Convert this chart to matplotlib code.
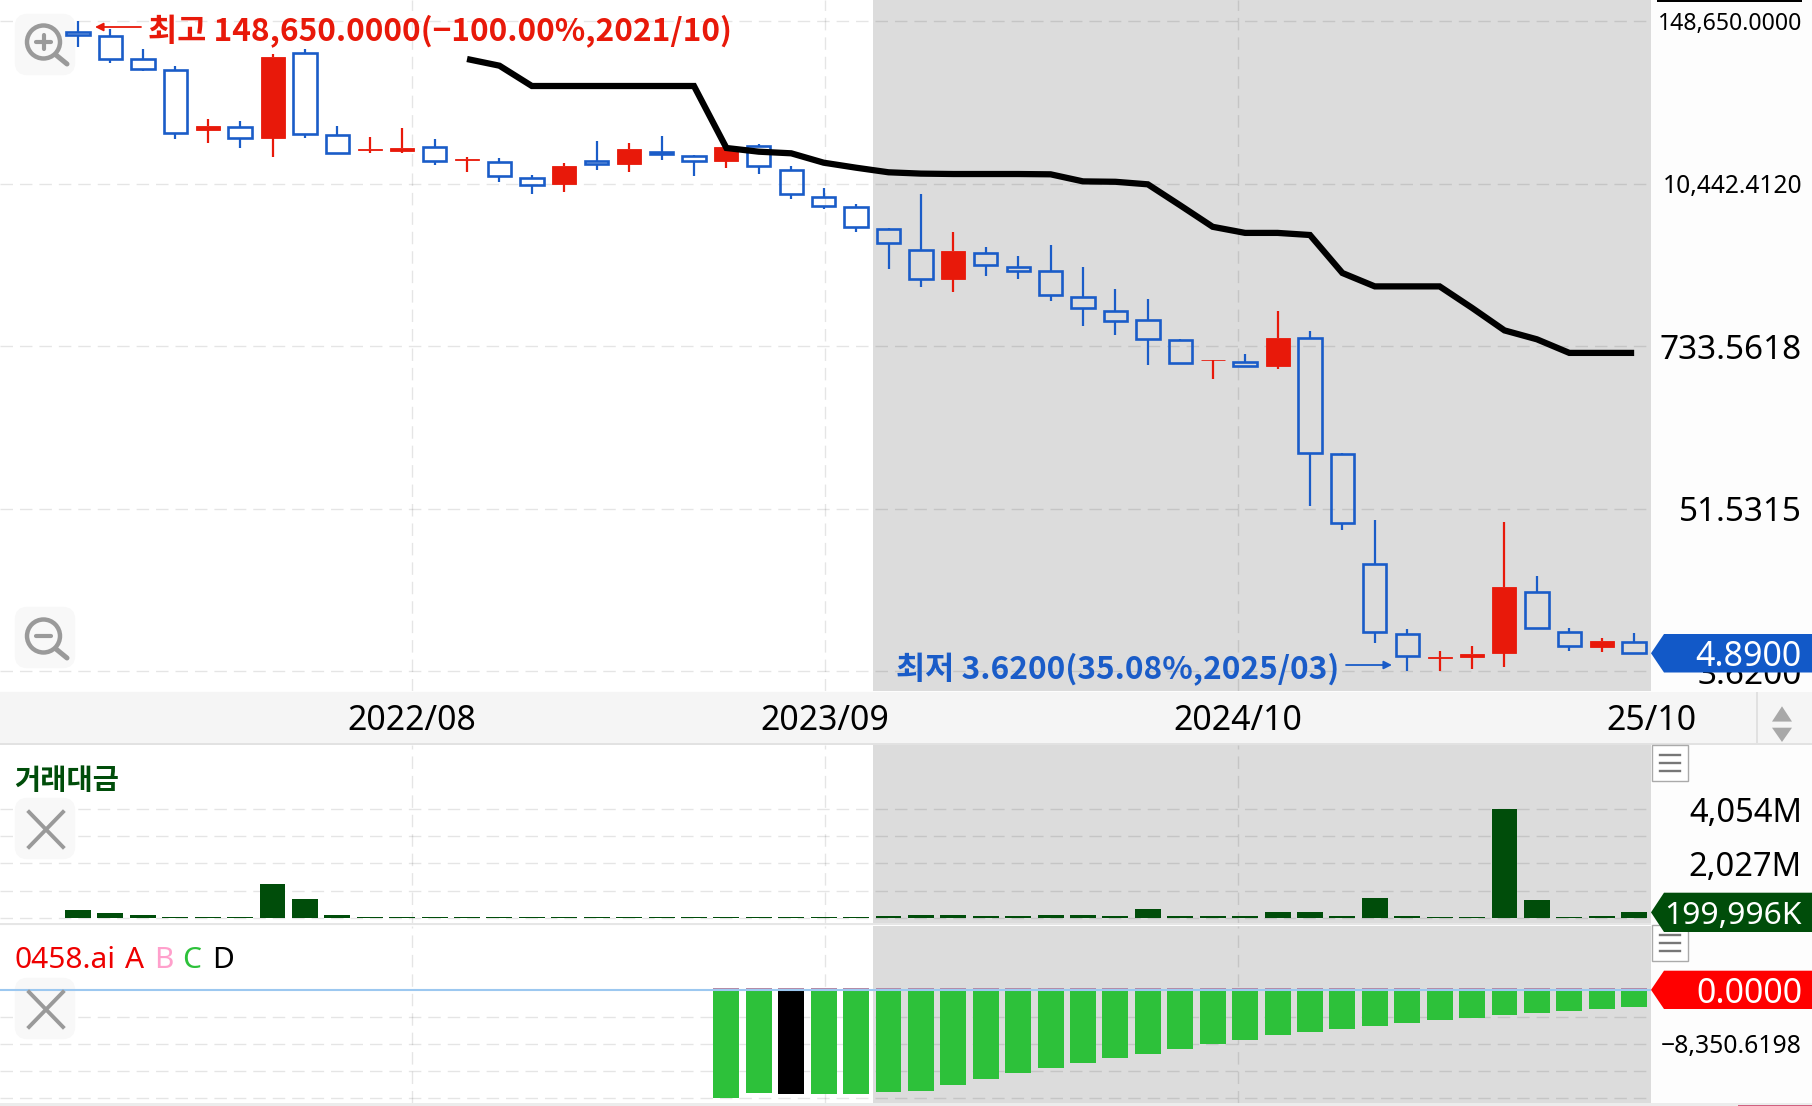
import matplotlib
matplotlib.use("Agg")
import matplotlib.pyplot as plt
from matplotlib.patches import Circle, FancyBboxPatch, Polygon, Rectangle

plt.rcParams["font.family"] = ["Noto Sans", "Noto Sans CJK KR", "DejaVu Sans"]

# monthly candles, 2021/10 to 2025/10
opens = [1.258e5, 1.175e5, 8.025e4, 6.737e4, 2.514e4, 2.653e4, 2.205e4, 8.853e4, 2.316e4, 1.821e4, 1.792e4, 1.904e4, 1.539e4,
         1.497e4, 1.147e4, 1.04e4, 1.507e4, 1.435e4, 1.754e4, 1.651e4, 1.522e4, 1.926e4, 1.301e4, 8405, 7102, 5005,
         3533, 2214, 3370, 2685, 2490, 1638, 1303, 1132, 805.9, 581.1, 567.9, 532.9, 835.4,
         126, 20.96, 6.672, 4.485, 4.551, 4.867, 13.07, 6.849, 5.36, 5.835]
closes = [1.188e5, 7.986e4, 6.815e4, 2.393e4, 2.683e4, 2.216e4, 8.292e4, 2.354e4, 1.734e4, 1.842e4, 1.882e4, 1.507e4, 1.557e4,
          1.185e4, 1.023e4, 1.402e4, 1.442e4, 1.842e4, 1.698e4, 1.514e4, 1.913e4, 1.388e4, 8784, 7255, 5146, 3942,
          2214, 3453, 2747, 2519, 1693, 1371, 1107, 825.9, 557.8, 588.7, 526.8, 845, 128.1,
          40.77, 6.872, 4.596, 4.551, 4.811, 14.18, 7.324, 5.475, 5.912, 4.89]
highs = [1.486e5, 1.311e5, 9.451e4, 7.193e4, 3.009e4, 2.926e4, 8.709e4, 9.405e4, 2.683e4, 2.253e4, 2.584e4, 2.159e4, 1.609e4,
         1.582e4, 1.21e4, 1.458e4, 2.1e4, 2.032e4, 2.279e4, 1.678e4, 2.042e4, 1.99e4, 1.402e4, 9690, 7496, 5063,
         8885, 4704, 3711, 3203, 3860, 2676, 1858, 1586, 820.5, 588.7, 649.4, 1303, 933.6,
         128.1, 43.03, 7.241, 4.988, 5.412, 41.04, 17, 7.372, 6.219, 6.716]
lows = [9.765e4, 7.517e4, 6.628e4, 2.17e4, 2.042e4, 1.882e4, 1.624e4, 2.216e4, 1.717e4, 1.717e4, 1.717e4, 1.411e4, 1.271e4,
        1.069e4, 8871, 9121, 1.307e4, 1.265e4, 1.532e4, 1.185e4, 1.35e4, 1.224e4, 8135, 6908, 4766, 2603,
        1930, 1778, 2321, 2214, 1525, 1025, 886, 539, 557.8, 426.6, 521.7, 508.2, 53.4,
        36.54, 5.731, 3.638, 3.62, 3.765, 3.877, 7.324, 5.02, 4.955, 4.89]

# thick black moving average, starts at candle 12
ma_start = 12
ma_values = [8.025e4, 7.193e4, 5.161e4, 5.161e4, 5.161e4, 5.161e4, 5.161e4, 5.161e4, 1.873e4, 1.763e4, 1.717e4, 1.473e4, 1.357e4,
             1.259e4, 1.232e4, 1.224e4, 1.224e4, 1.224e4, 1.218e4, 1.085e4, 1.078e4, 1.034e4, 7326, 5163, 4673, 4673, 4515,
             2426, 1949, 1949, 1949, 1371, 949, 820.5, 656.9, 656.9, 656.9]

# traded value, in millions
turnover = [298, 175, 100, 40, 30, 30, 1243, 684, 90, 40, 40, 30, 30, 30, 30, 30, 30, 30, 30, 30, 30, 30, 30, 30, 30,
            48, 86, 100, 63, 63, 86, 100, 75, 310, 63, 63, 63, 198, 198, 70, 720, 50, 40, 40, 4054, 646, 37, 60, 200]

# indicator histogram, starts at candle 20, bar 22 is the black one
hist_start = 20
hist_black = 22
hist_values = [-16753, -15929, -16135, -16083, -16032, -15774, -15568, -14640, -13764, -12887, -12114, -11341, -10568, -9846,
               -9124, -8403, -7784, -7011, -6547, -6031, -5567, -5103, -4691, -4279, -3866, -3505, -3196, -2887, -2578]

price_ticks = [148650, 10442.412, 733.5618, 51.5315, 3.62]
price_labels = ["148,650.0000", "10,442.4120", "733.5618", "51.5315", "3.6200"]
price_sizes = [16.6, 17.7, 24, 24, 24]
turnover_grid = [1013.5, 2027, 3040.5, 4054]
hist_grid = [-4175.3, -8350.6, -12525.9, -16701.2]
date_pos = [10.3, 23.04, 35.78, 48.52]
date_labels = ["2022/08", "2023/09", "2024/10", "25/10"]
shade_start = 24.51

BLUE = "#1a5cc8"
RED = "#e8190a"
DARK = "#004d0a"
GREEN = "#2dc13a"
W, H = 1812, 1106
PLOT_W = 1651
X0, DX = 78, 32.42
GRID = dict(color=(0, 0, 0, 0.1), lw=1.0, dashes=(9, 5), zorder=1)


def panel(top, bottom):
    ax = fig.add_axes([0, 1 - bottom / H, PLOT_W / W, (bottom - top) / H])
    ax.set_xlim(-X0 / DX, (PLOT_W - X0) / DX)
    ax.set_xticks([])
    ax.set_yticks([])
    ax.set_facecolor("white")
    for s in ax.spines.values():
        s.set_visible(False)
    ax.axvspan(shade_start, 100, color="#dcdcdc", lw=0, zorder=0)
    for x in date_pos[:-1]:
        ax.axvline(x, **GRID)
    return ax


def grid(ax, values):
    for v in values:
        ax.axhline(v, **GRID)


def right_label(ax, y, text, size):
    ax.text(1802 / PLOT_W, y, text, transform=ax.get_yaxis_transform(), ha="right", va="center_baseline",
            fontsize=size, color="black")


def icon_box(ax, box_top):
    # sits under the marks of the panel it belongs to
    ax.add_patch(FancyBboxPatch((19, box_top + 6), 52, 53, boxstyle="round,pad=0,rounding_size=8",
                                facecolor="#f8f8f8", edgecolor="#f8f8f8", lw=6, zorder=2,
                                transform=over.transData, clip_on=False))


fig = plt.figure(figsize=(W / 100, H / 100), dpi=100, facecolor="#fdfdfd")

# overlay drawn in pixels: icons, flags, captions
over = fig.add_axes([0, 0, 1, 1], zorder=10)
over.set_xlim(0, W)
over.set_ylim(H, 0)
over.axis("off")
over.patch.set_visible(False)

# price panel
ax = panel(0, 691)
px_per_decade = 649.7 / (5.17217 - 0.55871)
ax.set_yscale("log")
ax.set_ylim(10 ** (0.55871 - 20 / px_per_decade), 10 ** (5.17217 + 21.3 / px_per_decade))
ax.minorticks_off()
ax.set_yticks([])
grid(ax, price_ticks)
icon_box(ax, 12)
icon_box(ax, 605)
for i in range(len(opens)):
    up = closes[i] > opens[i]
    col = RED if up else BLUE
    top, bot = max(opens[i], closes[i]), min(opens[i], closes[i])
    # hollow bodies show the background, so the wick stops at the body
    ax.vlines(i, top, highs[i], color=col, lw=1.6, zorder=3)
    ax.vlines(i, lows[i], bot, color=col, lw=1.6, zorder=3)
    if up:
        ax.bar(i, top - bot, bottom=bot, width=0.74, facecolor=RED, edgecolor=RED, lw=0.6, zorder=4)
    else:
        ax.bar(i, top - bot, bottom=bot, width=0.72, facecolor="none", edgecolor=BLUE, lw=1.9, zorder=4)
ax.plot(range(ma_start, ma_start + len(ma_values)), ma_values, color="black", lw=4.5, zorder=5,
        solid_joinstyle="miter", solid_capstyle="butt")
for v, t, s in zip(price_ticks, price_labels, price_sizes):
    right_label(ax, v, t, s)

# time band
band = fig.add_axes([0, 1 - 743 / H, 1, (743 - 692) / H])
band.set_xlim(0, W)
band.set_ylim(0, 1)
band.axis("off")
band.add_patch(Rectangle((0, 0), W, 1, color="#f5f5f5", lw=0))
for x, t in zip(date_pos, date_labels):
    band.text(X0 + DX * x, 0.5, t, ha="center", va="center_baseline", fontsize=24.4, color="black")
band.axvline(1757, color="#dddddd", lw=1.2)
band.add_patch(Polygon([(1772, 0.42), (1792, 0.42), (1782, 0.72)], color="#a8a8a8", lw=0))
band.add_patch(Polygon([(1772, 0.30), (1792, 0.30), (1782, 0.02)], color="#a8a8a8", lw=0))
fig.add_artist(Rectangle((0, 1 - 745 / H), 1, 2 / H, transform=fig.transFigure, color="#e2e2e2", lw=0))

# traded value panel
ax2 = panel(745, 924)
ax2.set_ylim(4054 * (917.7 - 924) / 108.7, 4054 * (917.7 - 745) / 108.7)
grid(ax2, [0] + turnover_grid)
icon_box(ax2, 796)
ax2.bar(range(len(turnover)), turnover, width=0.8, color=DARK, zorder=3)
right_label(ax2, 4054, "4,054M", 23.5)
right_label(ax2, 2027, "2,027M", 23.5)

# indicator panel
ax3 = panel(926, 1103)
per_px = 8350.6 / 54
ax3.set_ylim(-per_px * (1103 - 990), per_px * (990 - 926))
grid(ax3, hist_grid)
icon_box(ax3, 976)
hist_x = list(range(hist_start, hist_start + len(hist_values)))
hist_colors = ["black" if x == hist_black else GREEN for x in hist_x]
ax3.bar(hist_x, hist_values, width=0.8, color=hist_colors, zorder=3)
ax3.bar(hist_x, [300] * len(hist_x), width=0.8, color="#b58aa5", zorder=3)
ax3.axhline(0, color="#9cc8f0", lw=1.5, zorder=4)
right_label(ax3, -8350.6, "\u22128,350.6198", 17.8)

fig.add_artist(Rectangle((0, 1 - 925 / H), PLOT_W / W, 2 / H, transform=fig.transFigure, color="#e6e6e6", lw=0))
over.add_patch(Rectangle((0, 1103), W, 3, color="#ececec", lw=0))
over.add_patch(Rectangle((1738, 1105), 74, 1, color="#d06080", lw=0))
over.add_patch(Rectangle((1657, 0), 145, 2, color="black", lw=0))

ICON = "#9a9a9a"
for cy, plus in ((42, True), (636, False)):
    over.add_patch(Circle((43.5, cy), 16.5, fill=False, ec=ICON, lw=3.2, zorder=1))
    over.plot([56, 67], [cy + 13, cy + 22], color=ICON, lw=3.6, solid_capstyle="round", zorder=1)
    over.plot([36, 51], [cy, cy], color=ICON, lw=3, solid_capstyle="round", zorder=1)
    if plus:
        over.plot([43.5, 43.5], [cy - 7, cy + 7], color=ICON, lw=3, solid_capstyle="round", zorder=1)
for y0 in (812, 992):
    over.plot([29, 63], [y0, y0 + 35], color=ICON, lw=2.8, zorder=7)
    over.plot([63, 29], [y0, y0 + 35], color=ICON, lw=2.8, zorder=7)

for box_y in (745, 925):
    over.add_patch(Rectangle((1652, box_y), 36, 36, facecolor="white", edgecolor="#aaaaaa", lw=1, zorder=7))
    for dy in (10, 18, 26):
        over.plot([1660, 1680], [box_y + dy, box_y + dy], color="#777777", lw=1.7, zorder=8)


def flag(y_top, y_bot, color, text, size):
    y_mid = (y_top + y_bot) / 2
    over.add_patch(Polygon([(1651, y_mid), (1664, y_top), (W, y_top), (W, y_bot), (1664, y_bot)], color=color, lw=0, zorder=9))
    over.text(1802, y_mid, text, color="white", ha="right", va="center_baseline", fontsize=size, zorder=10)


flag(634, 672.5, "#1259c8", "4.8900", 24.4)
flag(892.7, 932, "#004d0a", "199,996K", 22.9)
flag(970.7, 1009, "#ff0000", "0.0000", 24.4)

# Noto Sans has no bold here, the CJK family carries the heavy latin glyphs too
over.text(148, 28, "최고 148,650.0000(\u2212100.00%,2021/10)", color=RED, ha="left", va="center_baseline",
          fontsize=22.8, fontweight="bold", family=["Noto Sans CJK KR", "DejaVu Sans"], zorder=8)
over.annotate("", xy=(95, 27), xytext=(141, 27), zorder=8,
              arrowprops=dict(arrowstyle="-|>", color=RED, lw=1.3, shrinkA=0, shrinkB=0, mutation_scale=12))
over.text(896, 666, "최저 3.6200(35.08%,2025/03)", color=BLUE, ha="left", va="center_baseline",
          fontsize=22.8, fontweight="bold", family=["Noto Sans CJK KR", "DejaVu Sans"], zorder=8)
over.annotate("", xy=(1392, 665), xytext=(1346, 665), zorder=8,
              arrowprops=dict(arrowstyle="-|>", color=BLUE, lw=1.3, shrinkA=0, shrinkB=0, mutation_scale=12))

over.text(14, 781, "거래대금", color=DARK, ha="left", va="center", fontsize=20.5, fontweight="semibold")
for part, col, x_cap in (("0458.ai", "#ee0000", 14), ("A", "#ee0000", 125), ("B", "#ffa0cc", 154), ("C", GREEN, 182), ("D", "black", 212)):
    over.text(x_cap, 957, part, color=col, ha="left", va="center_baseline", fontsize=21.5)

fig.savefig("out.png", dpi=100, facecolor=fig.get_facecolor())
